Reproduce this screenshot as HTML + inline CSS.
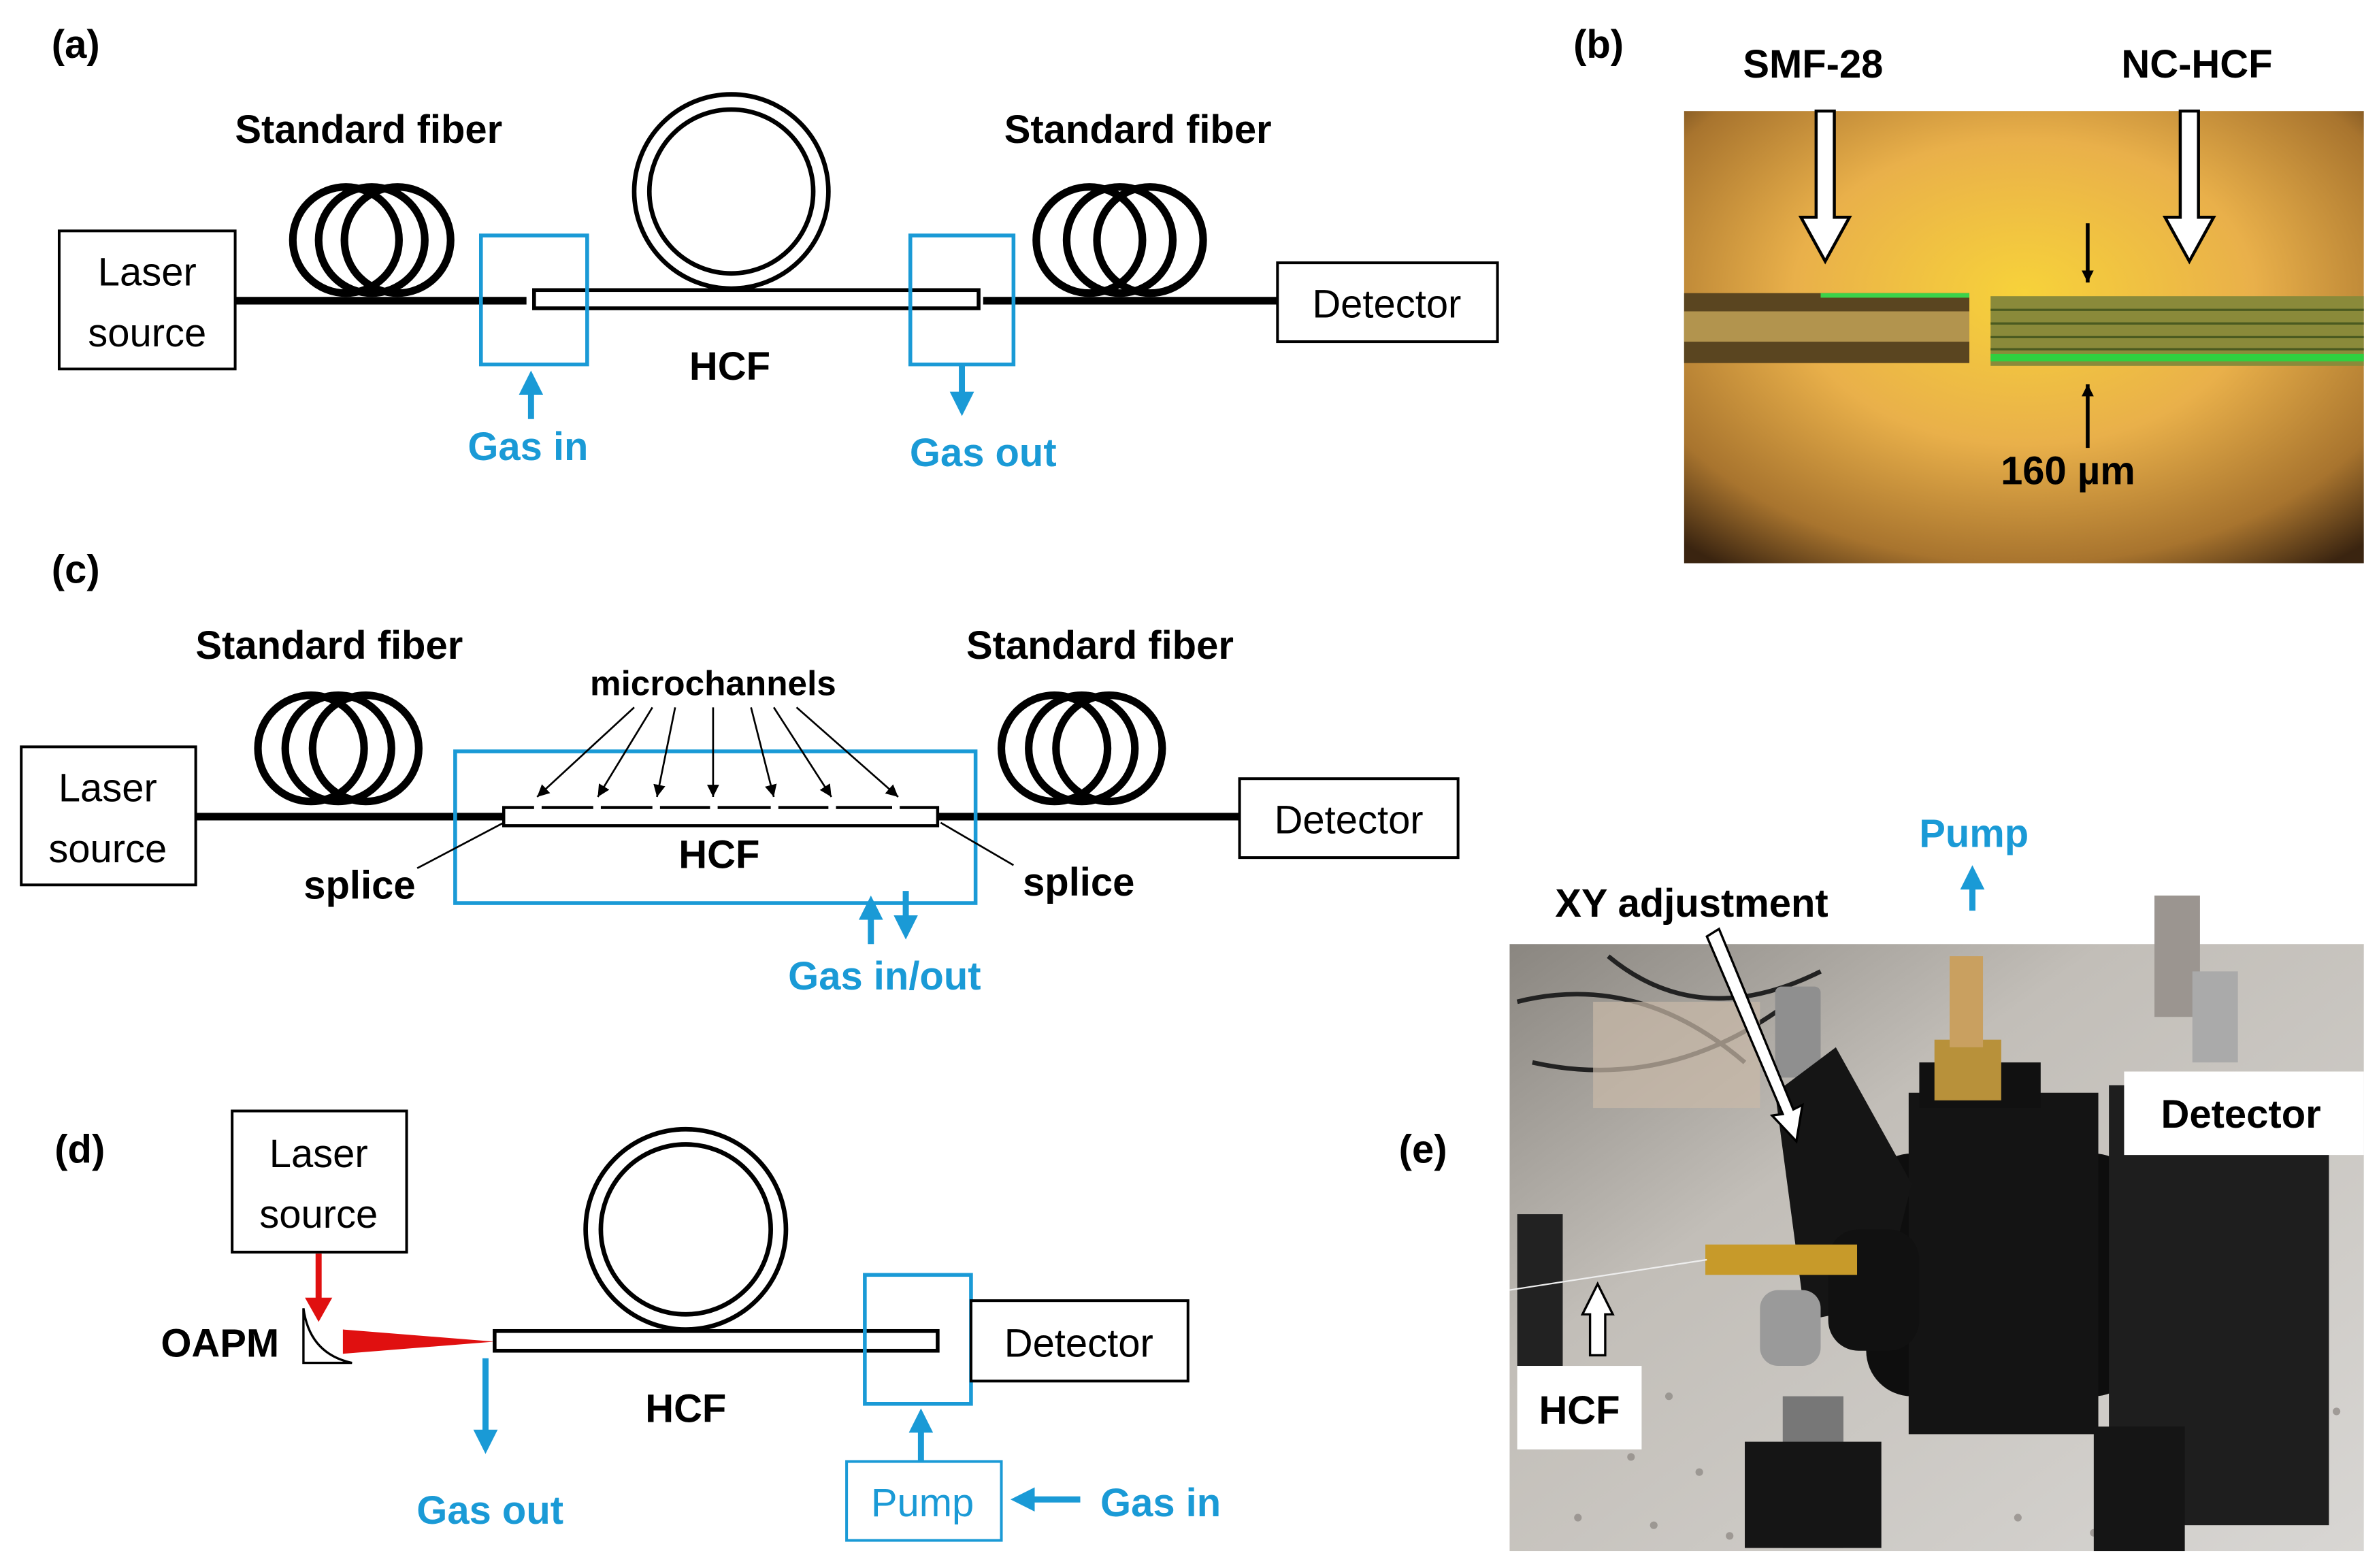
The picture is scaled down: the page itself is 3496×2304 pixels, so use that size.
<!DOCTYPE html>
<html><head><meta charset="utf-8"><style>
html,body{margin:0;padding:0;background:#fff;}
svg{display:block;}
text{font-family:"Liberation Sans","DejaVu Sans",sans-serif;}
.b{font-weight:bold;font-size:26px;fill:#000;}
.r{font-size:26px;fill:#000;}
.bl{font-weight:bold;font-size:26px;fill:#1a9ad6;}
</style></head><body>
<svg width="3496" height="2304" viewBox="0 0 1568 1033" xmlns="http://www.w3.org/2000/svg">
<defs>
<marker id="ab" markerWidth="4" markerHeight="4" refX="2" refY="2" orient="auto" markerUnits="strokeWidth"><path d="M0,0 L4,2 L0,4 z" fill="#1a9ad6"/></marker>
<marker id="ak" markerWidth="8" markerHeight="8" refX="8" refY="4" orient="auto" markerUnits="userSpaceOnUse"><path d="M0,0 L8,4 L0,8 z" fill="#000"/></marker>
<radialGradient id="gold" cx="0.5" cy="0.4" r="0.75">
<stop offset="0" stop-color="#f7d23a"/><stop offset="0.45" stop-color="#e9b04a"/><stop offset="0.8" stop-color="#a8742e"/><stop offset="1" stop-color="#3a2410"/></radialGradient>
<linearGradient id="lab" x1="0" y1="0" x2="1" y2="1"><stop offset="0" stop-color="#8a8680"/><stop offset="0.35" stop-color="#c2beb8"/><stop offset="1" stop-color="#d8d6d3"/></linearGradient>
</defs>

<!-- (a) -->
<text class="b" x="34" y="38">(a)</text>
<text class="b" x="243" y="94" text-anchor="middle">Standard fiber</text>
<text class="b" x="750" y="94" text-anchor="middle">Standard fiber</text>
<g fill="none" stroke="#000" stroke-width="5">
<circle cx="228" cy="158" r="35"/><circle cx="245" cy="158" r="35"/><circle cx="262" cy="158" r="35"/>
<circle cx="718" cy="158" r="35"/><circle cx="738" cy="158" r="35"/><circle cx="758" cy="158" r="35"/>
</g>
<g fill="none" stroke="#000" stroke-width="3">
<circle cx="482" cy="126" r="64"/><circle cx="482" cy="126" r="54"/>
</g>
<line x1="155" y1="198" x2="347" y2="198" stroke="#000" stroke-width="5"/>
<line x1="648" y1="198" x2="842" y2="198" stroke="#000" stroke-width="5"/>
<rect x="352" y="191" width="293" height="12" fill="#fff" stroke="#000" stroke-width="2.5"/>
<rect x="39" y="152" width="116" height="91" fill="#fff" stroke="#000" stroke-width="1.8"/>
<text class="r" x="97" y="188" text-anchor="middle">Laser</text>
<text class="r" x="97" y="228" text-anchor="middle">source</text>
<rect x="842" y="173" width="145" height="52" fill="#fff" stroke="#000" stroke-width="1.8"/>
<text class="r" x="914" y="209" text-anchor="middle">Detector</text>
<rect x="317" y="155" width="70" height="85" fill="none" stroke="#1a9ad6" stroke-width="2.5"/>
<rect x="600" y="155" width="68" height="85" fill="none" stroke="#1a9ad6" stroke-width="2.5"/>
<text class="b" x="481" y="250" text-anchor="middle">HCF</text>
<line x1="350" y1="276" x2="350" y2="252" stroke="#1a9ad6" stroke-width="4" marker-end="url(#ab)"/>
<text class="bl" x="348" y="303" text-anchor="middle">Gas in</text>
<line x1="634" y1="240" x2="634" y2="266" stroke="#1a9ad6" stroke-width="4" marker-end="url(#ab)"/>
<text class="bl" x="648" y="307" text-anchor="middle">Gas out</text>

<!-- (b) -->
<text class="b" x="1037" y="38">(b)</text>
<text class="b" x="1195" y="51" text-anchor="middle">SMF-28</text>
<text class="b" x="1448" y="51" text-anchor="middle">NC-HCF</text>
<rect x="1110" y="73" width="448" height="298" fill="url(#gold)"/>
<rect x="1110" y="193" width="188" height="46" fill="#5a4520"/>
<rect x="1110" y="205" width="188" height="20" fill="#c8a75a" opacity="0.8"/>
<rect x="1200" y="193" width="98" height="3" fill="#3bd24a"/>
<rect x="1312" y="195" width="246" height="46" fill="#8a8a3a"/>
<g stroke="#4a5a20" stroke-width="1.5"><line x1="1312" y1="204" x2="1558" y2="204"/><line x1="1312" y1="213" x2="1558" y2="213"/><line x1="1312" y1="222" x2="1558" y2="222"/><line x1="1312" y1="230" x2="1558" y2="230"/></g>
<rect x="1312" y="233" width="246" height="5" fill="#2fd040"/>
<path d="M1197,73 h12 v70 h10 l-16,29 l-16,-29 h10 z" fill="#fff" stroke="#000" stroke-width="2"/>
<path d="M1437,73 h12 v70 h10 l-16,29 l-16,-29 h10 z" fill="#fff" stroke="#000" stroke-width="2"/>
<line x1="1376" y1="147" x2="1376" y2="186" stroke="#000" stroke-width="2.5" marker-end="url(#ak)"/>
<line x1="1376" y1="295" x2="1376" y2="253" stroke="#000" stroke-width="2.5" marker-end="url(#ak)"/>
<text class="b" x="1363" y="319" text-anchor="middle">160 µm</text>

<!-- (c) -->
<text class="b" x="34" y="384">(c)</text>
<text class="b" x="217" y="434" text-anchor="middle">Standard fiber</text>
<text class="b" x="725" y="434" text-anchor="middle">Standard fiber</text>
<text x="470" y="458" text-anchor="middle" style="font-weight:bold;font-size:23px">microchannels</text>
<g fill="none" stroke="#000" stroke-width="5">
<circle cx="205" cy="493" r="35"/><circle cx="223" cy="493" r="35"/><circle cx="241" cy="493" r="35"/>
<circle cx="695" cy="493" r="35"/><circle cx="713" cy="493" r="35"/><circle cx="731" cy="493" r="35"/>
</g>
<line x1="129" y1="538" x2="332" y2="538" stroke="#000" stroke-width="5"/>
<line x1="618" y1="538" x2="817" y2="538" stroke="#000" stroke-width="5"/>
<rect x="300" y="495" width="343" height="100" fill="none" stroke="#1a9ad6" stroke-width="2.5"/>
<rect x="332" y="532" width="286" height="12" fill="#fff" stroke="#000" stroke-width="2"/>
<g stroke="#fff" stroke-width="3"><line x1="352" y1="532" x2="357" y2="532"/><line x1="391" y1="532" x2="396" y2="532"/><line x1="430" y1="532" x2="435" y2="532"/><line x1="468" y1="532" x2="473" y2="532"/><line x1="508" y1="532" x2="513" y2="532"/><line x1="546" y1="532" x2="551" y2="532"/><line x1="588" y1="532" x2="593" y2="532"/></g>
<g stroke="#000" stroke-width="1.2">
<line x1="418" y1="466" x2="354" y2="525" marker-end="url(#ak)"/>
<line x1="430" y1="466" x2="394" y2="525" marker-end="url(#ak)"/>
<line x1="445" y1="466" x2="433" y2="525" marker-end="url(#ak)"/>
<line x1="470" y1="466" x2="470" y2="525" marker-end="url(#ak)"/>
<line x1="495" y1="466" x2="510" y2="525" marker-end="url(#ak)"/>
<line x1="510" y1="466" x2="548" y2="525" marker-end="url(#ak)"/>
<line x1="525" y1="466" x2="592" y2="525" marker-end="url(#ak)"/>
<line x1="275" y1="572" x2="332" y2="542"/>
<line x1="668" y1="570" x2="620" y2="542"/>
</g>
<rect x="14" y="492" width="115" height="91" fill="#fff" stroke="#000" stroke-width="1.8"/>
<text class="r" x="71" y="528" text-anchor="middle">Laser</text>
<text class="r" x="71" y="568" text-anchor="middle">source</text>
<rect x="817" y="513" width="144" height="52" fill="#fff" stroke="#000" stroke-width="1.8"/>
<text class="r" x="889" y="549" text-anchor="middle">Detector</text>
<text class="b" x="474" y="572" text-anchor="middle">HCF</text>
<text class="b" x="237" y="592" text-anchor="middle">splice</text>
<text class="b" x="711" y="590" text-anchor="middle">splice</text>
<line x1="574" y1="622" x2="574" y2="598" stroke="#1a9ad6" stroke-width="4" marker-end="url(#ab)"/>
<line x1="597" y1="587" x2="597" y2="611" stroke="#1a9ad6" stroke-width="4" marker-end="url(#ab)"/>
<text class="bl" x="583" y="652" text-anchor="middle">Gas in/out</text>

<!-- (d) -->
<text class="b" x="36" y="766">(d)</text>
<rect x="153" y="732" width="115" height="93" fill="#fff" stroke="#000" stroke-width="1.8"/>
<text class="r" x="210" y="769" text-anchor="middle">Laser</text>
<text class="r" x="210" y="809" text-anchor="middle">source</text>
<line x1="210" y1="826" x2="210" y2="858" stroke="#e01010" stroke-width="4"/>
<path d="M201,855 L219,855 L210,871 z" fill="#e01010"/>
<text class="b" x="145" y="894" text-anchor="middle">OAPM</text>
<path d="M200,862 Q204,892 232,898 L200,898 z" fill="#fff" stroke="#000" stroke-width="1.5"/>
<path d="M226,876 L326,884 L226,892 z" fill="#e01010"/>
<g fill="none" stroke="#000" stroke-width="3">
<circle cx="452" cy="810" r="66"/><circle cx="452" cy="810" r="56"/>
</g>
<rect x="326" y="877" width="292" height="13" fill="#fff" stroke="#000" stroke-width="2.5"/>
<rect x="570" y="840" width="70" height="85" fill="none" stroke="#1a9ad6" stroke-width="2.5"/>
<rect x="640" y="857" width="143" height="53" fill="#fff" stroke="#000" stroke-width="1.8"/>
<text class="r" x="711" y="894" text-anchor="middle">Detector</text>
<text class="b" x="452" y="937" text-anchor="middle">HCF</text>
<line x1="320" y1="895" x2="320" y2="950" stroke="#1a9ad6" stroke-width="4" marker-end="url(#ab)"/>
<text class="bl" x="323" y="1004" text-anchor="middle">Gas out</text>
<line x1="607" y1="963" x2="607" y2="936" stroke="#1a9ad6" stroke-width="4" marker-end="url(#ab)"/>
<rect x="558" y="963" width="102" height="52" fill="#fff" stroke="#1a9ad6" stroke-width="1.8"/>
<text x="608" y="999" text-anchor="middle" style="font-size:26px;fill:#1a9ad6">Pump</text>
<line x1="712" y1="988" x2="674" y2="988" stroke="#1a9ad6" stroke-width="4" marker-end="url(#ab)"/>
<text class="bl" x="765" y="999" text-anchor="middle">Gas in</text>

<!-- (e) -->
<text class="b" x="922" y="766">(e)</text>
<rect x="995" y="622" width="563" height="400" fill="url(#lab)"/>
<g fill="#8a8580" opacity="0.7">
<circle cx="1020" cy="900" r="2.5"/><circle cx="1060" cy="910" r="2.5"/><circle cx="1100" cy="920" r="2.5"/><circle cx="1030" cy="950" r="2.5"/><circle cx="1075" cy="960" r="2.5"/><circle cx="1120" cy="970" r="2.5"/><circle cx="1040" cy="1000" r="2.5"/><circle cx="1090" cy="1005" r="2.5"/><circle cx="1140" cy="1012" r="2.5"/><circle cx="1330" cy="1000" r="2.5"/><circle cx="1380" cy="1010" r="2.5"/><circle cx="1530" cy="990" r="2.5"/><circle cx="1540" cy="930" r="2.5"/>
</g>
<path d="M1000,660 Q1080,640 1150,700 M1010,700 Q1100,720 1180,660 M1060,630 Q1120,680 1200,640" stroke="#222" stroke-width="3" fill="none"/>
<rect x="1050" y="660" width="110" height="70" fill="#c9b9a8" opacity="0.7"/>
<rect x="1000" y="800" width="30" height="100" fill="#222"/>
<rect x="1230" y="760" width="180" height="160" rx="30" fill="#0e0e0e"/>
<rect x="1258" y="720" width="125" height="225" fill="#141414"/>
<rect x="1390" y="715" width="145" height="290" fill="#1e1e1e"/>
<rect x="1265" y="700" width="80" height="30" fill="#111"/>
<rect x="1275" y="685" width="44" height="40" fill="#b8913a"/>
<rect x="1285" y="630" width="22" height="60" fill="#c9a060"/>
<rect x="1170" y="650" width="30" height="60" rx="4" fill="#8f8f8f"/>
<path d="M1170,720 L1210,690 L1260,780 L1240,860 L1190,870 z" fill="#151515"/>
<rect x="1205" y="810" width="60" height="80" rx="20" fill="#111"/>
<rect x="1124" y="820" width="100" height="20" fill="#c79a2a"/>
<rect x="1160" y="850" width="40" height="50" rx="12" fill="#9a9a9a"/>
<rect x="1175" y="920" width="40" height="100" fill="#777"/>
<rect x="1150" y="950" width="90" height="70" fill="#151515"/>
<rect x="1380" y="940" width="60" height="82" fill="#151515"/>
<rect x="1420" y="590" width="30" height="80" fill="#9b9590"/>
<rect x="1445" y="640" width="30" height="60" fill="#aaa"/>
<line x1="995" y1="850" x2="1125" y2="830" stroke="#eee" stroke-width="1"/>
<text class="b" x="1115" y="604" text-anchor="middle">XY adjustment</text>
<path d="M1125,617 L1133,612 L1182,731 L1188,728 L1184,752 L1168,735 L1175,734 z" fill="#fff" stroke="#000" stroke-width="1.5"/>
<line x1="1300" y1="600" x2="1300" y2="578" stroke="#1a9ad6" stroke-width="4" marker-end="url(#ab)"/>
<text class="bl" x="1301" y="558" text-anchor="middle">Pump</text>
<rect x="1400" y="706" width="158" height="55" fill="#fff"/>
<text class="b" x="1477" y="743" text-anchor="middle">Detector</text>
<path d="M1048,893 L1048,866 L1043,866 L1053,846 L1063,866 L1058,866 L1058,893 z" fill="#fff" stroke="#000" stroke-width="1.5"/>
<rect x="1000" y="900" width="82" height="55" fill="#fff"/>
<text class="b" x="1041" y="938" text-anchor="middle">HCF</text>
</svg>
</body></html>
